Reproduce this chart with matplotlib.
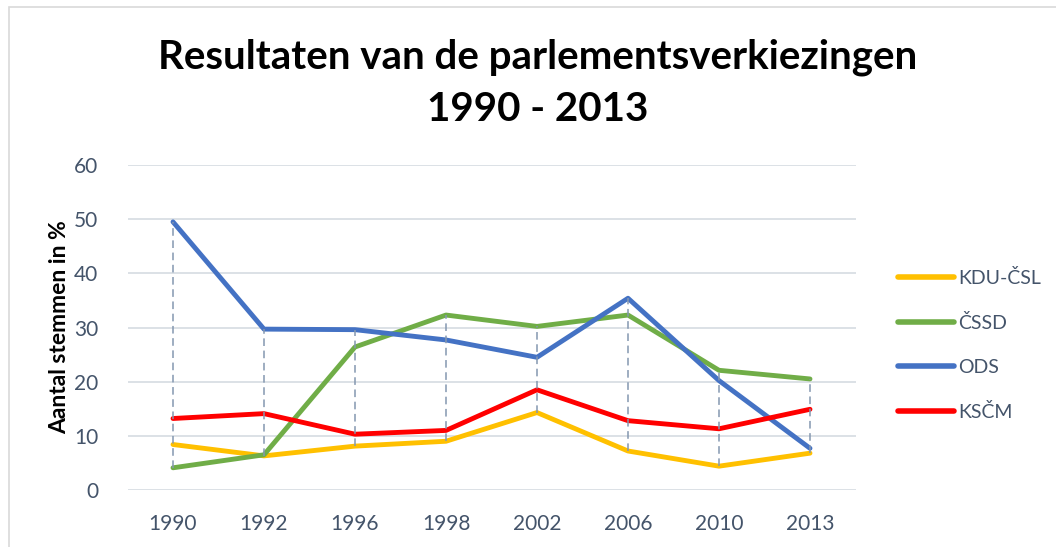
import numpy as np
import matplotlib
matplotlib.use('Agg')
import matplotlib.pyplot as plt
from matplotlib.patches import Rectangle
from matplotlib.lines import Line2D

# %%
# Election results (percent of votes)
years = ['1990', '1992', '1996', '1998', '2002', '2006', '2010', '2013']
kdu_csl = [8.4, 6.3, 8.1, 9.0, 14.3, 7.2, 4.4, 6.8]
cssd = [4.1, 6.5, 26.4, 32.3, 30.2, 32.3, 22.1, 20.5]
ods = [49.5, 29.7, 29.6, 27.7, 24.5, 35.4, 20.2, 7.7]
kscm = [13.2, 14.1, 10.3, 11.0, 18.5, 12.8, 11.3, 14.9]

series_names = ['KDU-ČSL', 'ČSSD', 'ODS', 'KSČM']
series_colors = ['#FFC000', '#70AD47', '#4472C4', '#FF0000']

title = 'Resultaten van de parlementsverkiezingen\n1990 - 2013'
ylabel = 'Aantal stemmen in %'

# %%
W, H = 1056, 547
fig = plt.figure(figsize=(W / 100, H / 100), dpi=100)
plt.rcParams['font.family'] = ['Lato', 'DejaVu Sans']
text_col = '#44546A'

# light border of the chart area (top and left edges visible)
fig.patches.append(Rectangle((9 / W, -0.1), 1.2, 1 - 7 / H + 0.1,
                             transform=fig.transFigure, fill=False,
                             edgecolor='#D9D9D9', lw=1.2))

ax = fig.add_axes([127.5 / W, 1 - 490 / H, 728 / W, 325 / H])
x = np.arange(len(years))
data = [kdu_csl, cssd, ods, kscm]

for vals, name, col in zip(data, series_names, series_colors):
    ax.plot(x, vals, color=col, lw=3.5, solid_capstyle='round',
            solid_joinstyle='round', label=name, zorder=3)

# high-low lines
arr = np.array(data)
ax.vlines(x, arr.min(axis=0), arr.max(axis=0), colors='#8497B0',
          linestyles=(0, (5, 3)), lw=1.1, zorder=4)

ax.set_xlim(-0.5, len(years) - 0.5)
ax.set_ylim(0, 60)
ax.set_yticks(range(0, 61, 10))
ax.set_xticks(x)
ax.set_xticklabels(years)
ax.grid(axis='y', color='#D9DEE4', lw=1.3)
ax.set_axisbelow(True)
for s in ax.spines.values():
    s.set_visible(False)
ax.tick_params(length=0, labelsize=15, labelcolor=text_col)
ax.tick_params(axis='y', pad=21)
ax.tick_params(axis='x', pad=17)
ax.set_ylabel(ylabel, fontsize=16.5, fontweight='bold', color='black', labelpad=3)

fig.text(538 / W, 1 - 83 / H, title, ha='center', va='center',
         fontsize=29, fontweight='bold', color='black', linespacing=1.5)

handles = [Line2D([], [], color=c, lw=4, solid_capstyle='round')
           for c in series_colors]
leg = fig.legend(handles, series_names, loc='upper left',
                 bbox_to_anchor=(880 / W, 1 - 251 / H), frameon=False,
                 fontsize=14, labelcolor=text_col, handlelength=2.9,
                 handletextpad=0.2, labelspacing=1.4)

fig.savefig('out.png', dpi=100)
